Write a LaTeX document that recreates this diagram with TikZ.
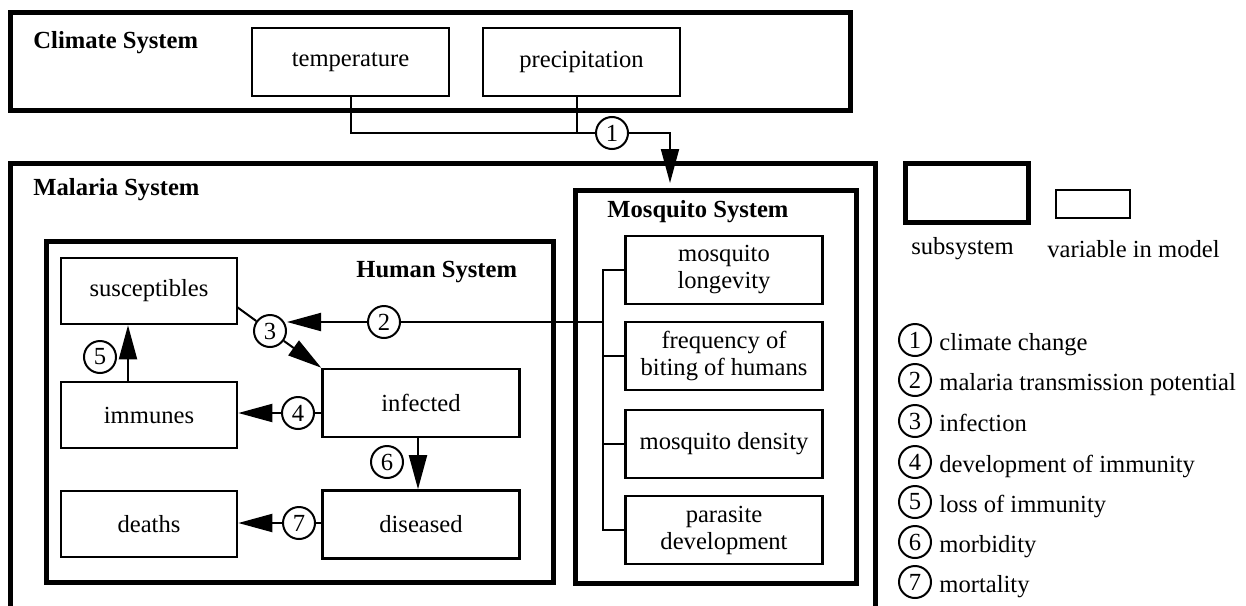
\documentclass[tikz,border=0pt]{standalone}
\usepackage{fontspec}
\setmainfont{Liberation Serif}
\usetikzlibrary{arrows.meta,calc}
\begin{document}
\begin{tikzpicture}[x=0.5pt,y=-0.5pt,
  font=\fontsize{12.3}{13.5}\selectfont,
  sub/.style={draw, line width=2.5pt},
  var/.style={draw, line width=1.3pt, minimum width=98.5pt, minimum height=34pt, inner sep=1pt, align=center},
  hvar/.style={var, minimum width=88pt, minimum height=33pt},
  num/.style={draw, circle, line width=1pt, minimum size=16pt, inner sep=0pt, fill=white},
  conn/.style={line width=1pt},
  arr/.style={conn, -{Triangle[length=17pt,width=9pt]}},
  systitle/.style={font=\fontsize{12.3}{13.5}\selectfont\bfseries, inner sep=0pt, anchor=west},
  legtext/.style={anchor=base west, inner sep=0pt},
  ]
\useasboundingbox (0,0) rectangle (1246,605);

% Climate system
\draw[sub] (10,12) rectangle (850,110);
\node[systitle] (climT) at (33,43) {Climate System};
\node[var] (temp) at (350.5,62) {temperature};
\node[var] (prec) at (581.5,62) {precipitation};

% Malaria system
\draw[sub] (10,640) -- (10,163) -- (875,163) -- (875,640);
\node[systitle] (malT) at (33,190) {Malaria System};

% Human system
\draw[sub] (46,241) rectangle (553,582);
\node[systitle] (humT) at (356,272) {Human System};
\node[hvar] (sus) at (149,291) {susceptibles};
\node[hvar] (imm) at (149,415) {immunes};
\node[hvar] (dea) at (149,524) {deaths};
\node[var] (inf) at (421,403) {infected};
\node[var] (dis) at (421,524.5) {diseased};

% Mosquito system
\draw[sub] (575,190) rectangle (856,583);
\node[systitle] (mosT) at (607,212) {Mosquito System};
\node[var] (m1) at (724,270) {mosquito\\longevity};
\node[var] (m2) at (724,356) {frequency of\\biting of humans};
\node[var] (m3) at (724,444) {mosquito density};
\node[var] (m4) at (724,530) {parasite\\development};

% numbered circles
\node[num] (c1) at (612,133) {1};
\node[num] (c2) at (384,322) {2};
\node[num] (c3) at (270,331) {3};
\node[num] (c4) at (298,413) {4};
\node[num] (c5) at (100,357) {5};
\node[num] (c6) at (387,462) {6};
\node[num] (c7) at (299,523) {7};

% helper coordinates
\coordinate (j1) at (670,183);
\coordinate (bx) at (603,322);
\coordinate (s3) at (237,307);
\coordinate (x5) at (128,0);
\coordinate (x6) at (418,0);

% connector 1
\draw[conn] (temp.south) |- (c1.west);
\draw[conn] ([xshift=-2.25pt]prec.south) -- ([xshift=-2.25pt]prec.south |- c1.west);
\draw[arr] (c1.east) -| (j1);

% bracket and connector 2
\draw[conn] (m1.west) -- (m1.west -| bx) -- (m4.west -| bx) -- (m4.west);
\draw[conn] (m2.west) -- (m2.west -| bx);
\draw[conn] (m3.west) -- (m3.west -| bx);
\draw[conn] (bx) -- (c2.east);
\draw[arr] (c2.west) -- (c2.west -| c3.east);

% connector 3
\draw[conn] (s3) -- (c3);
\draw[arr] (c3) -- (inf.north west);

% connector 4
\draw[conn] (c4.east) -- (c4.east -| inf.west);
\draw[arr] (c4.west) -- (c4.west -| imm.east);

% connector 5
\draw[arr] (imm.north -| x5) -- (sus.south -| x5);

% connector 6
\draw[arr] (inf.south -| x6) -- (dis.north -| x6);

% connector 7
\draw[conn] (c7.east) -- (c7.east -| dis.west);
\draw[arr] (c7.west) -- (c7.west -| dea.east);

% legend
\draw[sub] (905,163) rectangle (1028,222);
\draw[line width=1.3pt] (1056,190) rectangle (1130,218);
\node (lsub) at (962.5,249) {subsystem};
\node (lvar) at (1133.5,249) {variable in model};
\foreach \n/\yy/\t in {1/340/climate change,
                       2/380/malaria transmission potential,
                       3/421/infection,
                       4/462/development of immunity,
                       5/502/loss of immunity,
                       6/542/morbidity,
                       7/582/mortality}{
  \node[num] (l\n) at (915,\yy) {\n};
  \node[legtext] (lt\n) at (939,\yy+10) {\t};
}
\end{tikzpicture}
\end{document}
